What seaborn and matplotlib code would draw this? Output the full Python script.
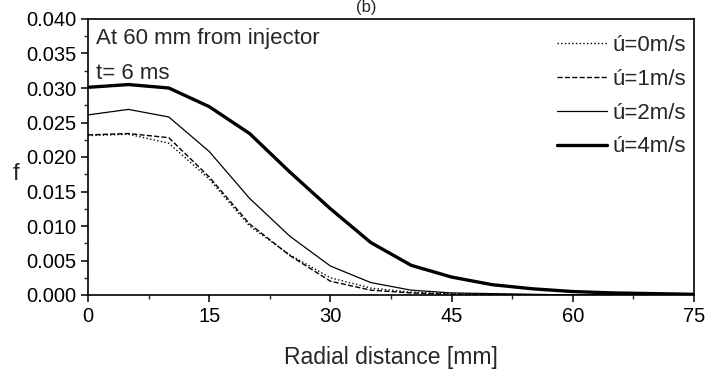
import matplotlib
matplotlib.use("Agg")
import matplotlib.pyplot as plt
import seaborn as sns
import pandas as pd
from matplotlib.ticker import MultipleLocator, FormatStrFormatter

radial = [0, 5, 10, 15, 20, 25, 30, 35, 40, 45, 50, 55, 60, 65, 70, 75]
f_0 = [0.0231, 0.0233, 0.0220, 0.0168, 0.0100, 0.0058, 0.0025, 0.0010, 0.0004, 0.0002, 0.0001, 0.00005, 0.0, 0.0, 0.0, 0.0]
f_1 = [0.0232, 0.0234, 0.0228, 0.0171, 0.0103, 0.0057, 0.0020, 0.0007, 0.0003, 0.0001, 0.00005, 0.0, 0.0, 0.0, 0.0, 0.0]
f_2 = [0.0261, 0.0269, 0.0258, 0.0208, 0.0140, 0.0085, 0.0042, 0.0018, 0.0007, 0.0003, 0.0002, 0.0001, 0.0, 0.0, 0.0, 0.0]
f_4 = [0.0301, 0.0305, 0.0300, 0.0273, 0.0234, 0.0178, 0.0125, 0.0076, 0.0043, 0.0026, 0.0015, 0.0009, 0.0005, 0.0003, 0.0002, 0.0001]
labels = ["ú=0m/s", "ú=1m/s", "ú=2m/s", "ú=4m/s"]

sns.set_style("ticks")
plt.rcParams['font.family'] = ['Liberation Sans', 'DejaVu Sans']

fig = plt.figure(figsize=(7.08, 3.79), dpi=100)
ax = fig.add_axes([88/708, 1 - 295/379, (694-88)/708, (295-19)/379])

styles = [(":", 1.0), ("--", 1.0), ("-", 0.9), ("-", 2.4)]
for ys, lab, (ls, lw) in zip([f_0, f_1, f_2, f_4], labels, styles):
    df = pd.DataFrame({"r": radial, "f": ys})
    sns.lineplot(data=df, x="r", y="f", ax=ax, color="black", linestyle=ls,
                 linewidth=lw, label=lab)

ax.set_xlim(0, 75)
ax.set_ylim(0, 0.040)
ax.xaxis.set_major_locator(MultipleLocator(15))
ax.xaxis.set_minor_locator(MultipleLocator(7.5))
ax.yaxis.set_major_locator(MultipleLocator(0.005))
ax.yaxis.set_minor_locator(MultipleLocator(0.0025))
ax.yaxis.set_major_formatter(FormatStrFormatter("%.3f"))
ax.tick_params(axis="both", which="major", direction="out", length=5, width=1.1,
               labelsize=14.5, colors="black")
ax.tick_params(axis="x", which="major", pad=4)
ax.tick_params(axis="both", which="minor", direction="out", length=3, width=1.0)
for s in ax.spines.values():
    s.set_linewidth(1.2)
    s.set_color("black")

ax.set_xlabel("Radial distance [mm]", fontsize=16.5, labelpad=14)
ax.set_ylabel("f", fontsize=17, rotation=0)
ax.yaxis.set_label_coords(-0.119, 0.40)

ax.text(0.013, 0.931, "At 60 mm from injector", transform=ax.transAxes,
        fontsize=16, va="center", ha="left")
ax.text(0.013, 0.804, "t= 6 ms", transform=ax.transAxes,
        fontsize=16, va="center", ha="left")

leg = ax.legend(loc="upper right", frameon=False, fontsize=16,
                handlelength=2.25, handletextpad=0.27, labelspacing=0.58,
                borderaxespad=0.0, bbox_to_anchor=(1.002, 0.975))

fig.text(0.518, 1.0, "(b)", fontsize=12, ha="center", va="top")

fig.savefig("out.png", dpi=100)
